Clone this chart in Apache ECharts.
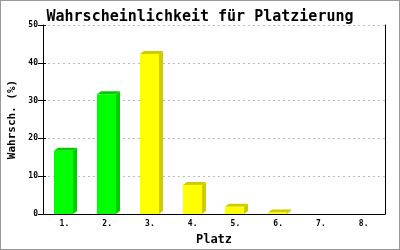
<!DOCTYPE html>
<html>
<head>
<meta charset="utf-8">
<script src="https://cdn.jsdelivr.net/npm/echarts@6/dist/echarts.min.js"></script>
<style>
html,body{margin:0;padding:0;background:#fff;}
#c{width:400px;height:250px;box-sizing:border-box;border:1px solid #999;}
</style>
</head>
<body>
<div id="c"></div>
<script>
const titleText = "Wahrscheinlichkeit für Platzierung";
const categories = ["1.", "2.", "3.", "4.", "5.", "6.", "7.", "8."];
const values = [16.7, 31.7, 42.3, 7.7, 1.9, 0.4, 0, 0];
const yTicks = { min: 0, max: 50, interval: 10 };
const xName = "Platz";
const yName = "Wahrsch. (%)";

const greenFront = "#00ff00", greenSide = "#00cc00";
const yellowFront = "#ffff00", yellowSide = "#cccc00";
const font = "DejaVu Sans Mono";

const chart = echarts.init(document.getElementById('c'), null, {renderer: 'canvas'});

function renderBar(params, api) {
  const idx = api.value(0);
  const v = api.value(1);
  if (!v) return null;
  const base = api.coord([idx, 0]);
  const top = api.coord([idx, v]);
  const bw = 19, dx = 4, dy = 3;
  const x0 = Math.round(base[0] - bw / 2 - 0.5);
  const yb = base[1], yt = top[1];
  const front = idx < 2 ? greenFront : yellowFront;
  const side = idx < 2 ? greenSide : yellowSide;
  return {
    type: 'group',
    children: [
      { type: 'polygon', shape: { points: [[x0 + bw, yt], [x0 + bw + dx, yt - dy], [x0 + bw + dx, yb - dy], [x0 + bw, yb]] }, style: { fill: side } },
      { type: 'polygon', shape: { points: [[x0, yt], [x0 + dx, yt - dy], [x0 + bw + dx, yt - dy], [x0 + bw, yt]] }, style: { fill: side } },
      { type: 'rect', shape: { x: x0, y: yt, width: bw, height: yb - yt }, style: { fill: front } }
    ]
  };
}

chart.setOption({
  animation: false,
  backgroundColor: '#fff',
  title: {
    text: titleText, left: 'center', top: 4,
    textStyle: { fontFamily: font, fontSize: 15, fontWeight: 'bold', color: '#000' }
  },
  grid: { left: 42, right: 14, top: 24, bottom: 35, containLabel: false, outerBoundsMode: 'none' },
  xAxis: {
    type: 'category', data: categories, boundaryGap: true,
    name: xName, nameLocation: 'middle', nameGap: 20,
    nameTextStyle: { fontFamily: font, fontSize: 12, fontWeight: 'bold', color: '#000' },
    axisLine: { lineStyle: { color: '#000', width: 1 } },
    axisTick: { show: false },
    axisLabel: { fontFamily: font, fontSize: 8, fontWeight: 'bold', color: '#000', margin: 6 },
    splitLine: { show: false }
  },
  yAxis: [
    {
      type: 'value', min: yTicks.min, max: yTicks.max, interval: yTicks.interval,
      name: yName, nameLocation: 'middle', nameGap: 25, nameRotate: 90,
      nameTextStyle: { fontFamily: font, fontSize: 11, fontWeight: 'bold', color: '#000' },
      axisLine: { show: true, lineStyle: { color: '#000', width: 1 } },
      axisTick: { show: true, length: 5, lineStyle: { color: '#000' } },
      axisLabel: { fontFamily: font, fontSize: 8, fontWeight: 'bold', color: '#000', margin: 5 },
      splitLine: { show: true, lineStyle: { color: '#bbb', type: [2, 3] } }
    },
    {
      type: 'value', min: yTicks.min, max: yTicks.max, interval: yTicks.interval, position: 'left',
      axisLine: { show: false },
      axisTick: { show: true, inside: true, length: 3, lineStyle: { color: '#000' } },
      axisLabel: { show: false }, splitLine: { show: false }
    },
    {
      type: 'value', min: yTicks.min, max: yTicks.max, interval: yTicks.interval, position: 'right',
      axisLine: { show: true, lineStyle: { color: '#000', width: 1 } },
      axisTick: { show: false }, axisLabel: { show: false }, splitLine: { show: false }
    }
  ],
  series: [{
    type: 'custom',
    renderItem: renderBar,
    encode: { x: 0, y: 1 },
    data: values.map((v, i) => [i, v])
  }]
});
</script>
</body>
</html>
